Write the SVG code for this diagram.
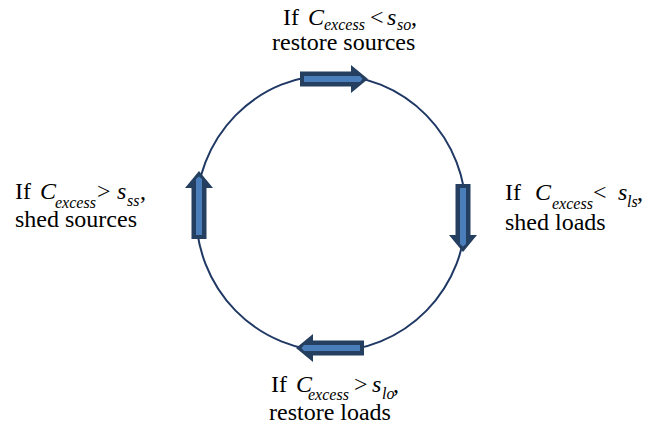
<svg xmlns="http://www.w3.org/2000/svg" width="660" height="436" viewBox="0 0 660 436">
<style>
text{font-family:'Liberation Serif','Times New Roman',serif;font-size:24px;fill:#000}
.i{font-style:italic}
.s{font-style:italic;font-size:16px}
.ring{fill:none;stroke:#1F3864;stroke-width:2}
.ad{fill:#243F60}
.al{fill:#4A7EBB}
</style>
<defs>
<g id="arr">
<polygon class="ad" points="-34,-7.5 17,-7.5 17,-14 34,0 17,14 17,7.5 -34,7.5"/>
<polygon class="al" points="-30,-3 26,-3 28.5,0 26,3 -30,3"/>
</g>
</defs>
<g id="connectors">
<ellipse class="ring" cx="331" cy="213" rx="135" ry="138"/>
<use href="#arr" transform="translate(334,79)"/>
<use href="#arr" transform="translate(463,218) rotate(90)"/>
<use href="#arr" transform="translate(330,348) rotate(180)"/>
<use href="#arr" transform="translate(199,205) rotate(-90)"/>
</g>
<g id="top">
<text x="283" y="25">If <tspan class="i" x="308">C</tspan><tspan class="s" x="324" dy="5">excess</tspan><tspan x="370" dy="-5">&lt;</tspan><tspan class="i" x="387">s</tspan><tspan class="s" x="397" dy="5">so</tspan><tspan x="411" dy="-5">,</tspan></text>
<text x="272" y="50">restore sources</text>
</g>
<g id="left">
<text x="15" y="199">If <tspan class="i" x="40">C</tspan><tspan class="s" x="55" dy="9">excess</tspan><tspan x="97" dy="-9">&gt;</tspan><tspan class="i" x="117">s</tspan><tspan class="s" x="127" dy="7">ss</tspan><tspan x="140" dy="-7">,</tspan></text>
<text x="15" y="227">shed sources</text>
</g>
<g id="right">
<text x="505" y="200">If <tspan class="i" x="535">C</tspan><tspan class="s" x="552" dy="9">excess</tspan><tspan x="593" dy="-9">&lt;</tspan><tspan class="i" x="618">s</tspan><tspan class="s" x="627" dy="7">ls</tspan><tspan x="637" dy="-7">,</tspan></text>
<text x="505" y="230">shed loads</text>
</g>
<g id="bottom">
<text x="271" y="392">If <tspan class="i" x="296">C</tspan><tspan class="s" x="308" dy="8">excess</tspan><tspan x="354" dy="-8">&gt;</tspan><tspan class="i" x="372">s</tspan><tspan class="s" x="382" dy="7">lo</tspan><tspan x="393" dy="-7">,</tspan></text>
<text x="269" y="420">restore loads</text>
</g>
</svg>
